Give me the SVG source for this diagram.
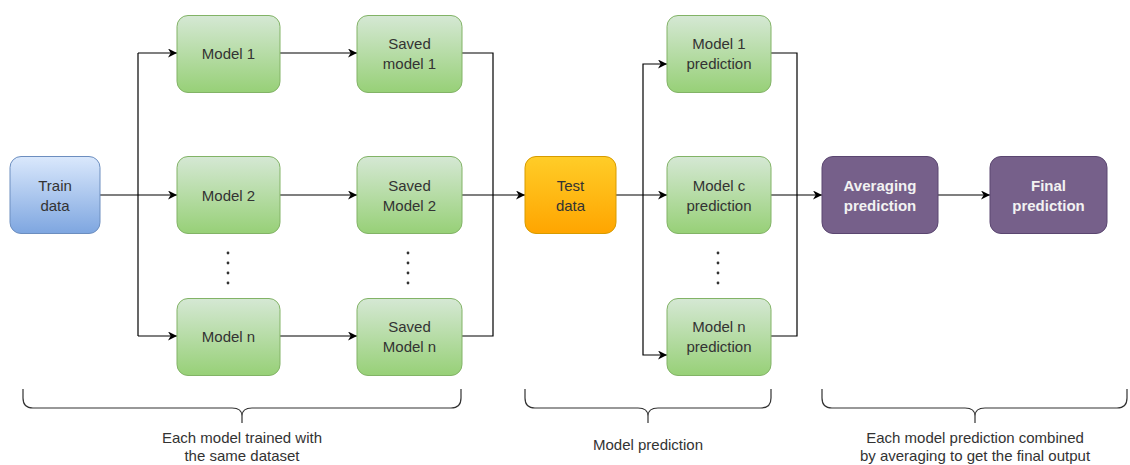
<svg xmlns="http://www.w3.org/2000/svg" width="1130" height="465" viewBox="0 0 1130 465">
<defs>
<linearGradient id="gGreen" x1="0" y1="0" x2="0" y2="1"><stop offset="0" stop-color="#d5e8d4"/><stop offset="1" stop-color="#97d077"/></linearGradient>
<linearGradient id="gBlue" x1="0" y1="0" x2="0" y2="1"><stop offset="0" stop-color="#dae8fc"/><stop offset="1" stop-color="#7ea6e0"/></linearGradient>
<linearGradient id="gOrange" x1="0" y1="0" x2="0" y2="1"><stop offset="0" stop-color="#ffcd28"/><stop offset="1" stop-color="#ffa500"/></linearGradient>
<marker id="arr" viewBox="0 0 10 10" refX="10" refY="5" markerWidth="9" markerHeight="9" markerUnits="userSpaceOnUse" orient="auto">
<path d="M0,0 L10,5 L0,10 L3,5 Z" fill="#000"/>
</marker>
<style>
.green{fill:url(#gGreen);stroke:#82b366;stroke-width:1}
.blue{fill:url(#gBlue);stroke:#6c8ebf;stroke-width:1}
.orange{fill:url(#gOrange);stroke:#d79b00;stroke-width:1}
.purple{fill:#76608a;stroke:#5a4670;stroke-width:1}
.t{font-family:"Liberation Sans",Arial,sans-serif;font-size:15px;fill:#333;text-anchor:middle}
.tw{font-family:"Liberation Sans",Arial,sans-serif;font-size:15px;fill:#f2f2f2;font-weight:bold;text-anchor:middle}
.lbl{font-family:"Liberation Sans",Arial,sans-serif;font-size:15px;fill:#333;text-anchor:middle}
.ln{fill:none;stroke:#000;stroke-width:1.2}
.ar{fill:none;stroke:#000;stroke-width:1.2;marker-end:url(#arr)}
.brace{fill:none;stroke:#333;stroke-width:1.2}
.dot{fill:#333}
</style>
</defs>
<rect width="1130" height="465" fill="#fff"/>

<g id="connectors">
<path class="ar" d="M100,195 H177"/>
<path class="ln" d="M138,53 V336"/>
<path class="ar" d="M138,53 H177"/>
<path class="ar" d="M138,336 H177"/>
<path class="ar" d="M280,53 H357"/>
<path class="ar" d="M280,195 H357"/>
<path class="ar" d="M280,336 H357"/>
<path class="ln" d="M462,53 H493 V336 H462"/>
<path class="ar" d="M462,195 H525"/>
<path class="ar" d="M616,195 H667"/>
<path class="ar" d="M643,195 V64 H667"/>
<path class="ar" d="M643,195 V355 H667"/>
<path class="ln" d="M771,53 H797 V336 H771"/>
<path class="ar" d="M771,195 H822"/>
<path class="ar" d="M938,195 H990"/>
</g>

<g id="train">
<rect class="blue" x="10" y="156.5" width="90" height="77" rx="11"/>
<text class="t" x="55" y="190.5">Train</text>
<text class="t" x="55" y="210.5">data</text>
</g>
<g id="model1">
<rect class="green" x="177" y="15.5" width="103" height="77" rx="11"/>
<text class="t" x="228.5" y="59">Model 1</text>
</g>
<g id="model2">
<rect class="green" x="177" y="156.5" width="103" height="77" rx="11"/>
<text class="t" x="228.5" y="200.5">Model 2</text>
</g>
<g id="modeln">
<rect class="green" x="177" y="298.5" width="103" height="77" rx="11"/>
<text class="t" x="228.5" y="342">Model n</text>
</g>
<g id="saved1">
<rect class="green" x="357" y="15.5" width="105" height="77" rx="11"/>
<text class="t" x="409.5" y="49">Saved</text>
<text class="t" x="409.5" y="69">model 1</text>
</g>
<g id="saved2">
<rect class="green" x="357" y="156.5" width="105" height="77" rx="11"/>
<text class="t" x="409.5" y="190.5">Saved</text>
<text class="t" x="409.5" y="210.5">Model 2</text>
</g>
<g id="savedn">
<rect class="green" x="357" y="298.5" width="105" height="77" rx="11"/>
<text class="t" x="409.5" y="332">Saved</text>
<text class="t" x="409.5" y="352">Model n</text>
</g>
<g id="test">
<rect class="orange" x="525" y="156.5" width="91" height="77" rx="11"/>
<text class="t" x="570.5" y="190.5">Test</text>
<text class="t" x="570.5" y="210.5">data</text>
</g>
<g id="pred1">
<rect class="green" x="667" y="15.5" width="104" height="77" rx="11"/>
<text class="t" x="719" y="49">Model 1</text>
<text class="t" x="719" y="69">prediction</text>
</g>
<g id="predc">
<rect class="green" x="667" y="156.5" width="104" height="77" rx="11"/>
<text class="t" x="719" y="190.5">Model c</text>
<text class="t" x="719" y="210.5">prediction</text>
</g>
<g id="predn">
<rect class="green" x="667" y="298.5" width="104" height="77" rx="11"/>
<text class="t" x="719" y="332">Model n</text>
<text class="t" x="719" y="352">prediction</text>
</g>
<g id="averaging">
<rect class="purple" x="822" y="156.5" width="116" height="77" rx="11"/>
<text class="tw" x="880" y="190.5">Averaging</text>
<text class="tw" x="880" y="210.5">prediction</text>
</g>
<g id="final">
<rect class="purple" x="990" y="156.5" width="117" height="77" rx="11"/>
<text class="tw" x="1048.5" y="190.5">Final</text>
<text class="tw" x="1048.5" y="210.5">prediction</text>
</g>

<g id="dots">
<circle class="dot" cx="228" cy="253" r="1.4"/><circle class="dot" cx="228" cy="263" r="1.4"/><circle class="dot" cx="228" cy="273" r="1.4"/><circle class="dot" cx="228" cy="283" r="1.4"/>
<circle class="dot" cx="408" cy="253" r="1.4"/><circle class="dot" cx="408" cy="263" r="1.4"/><circle class="dot" cx="408" cy="273" r="1.4"/><circle class="dot" cx="408" cy="283" r="1.4"/>
<circle class="dot" cx="718" cy="253" r="1.4"/><circle class="dot" cx="718" cy="263" r="1.4"/><circle class="dot" cx="718" cy="273" r="1.4"/><circle class="dot" cx="718" cy="283" r="1.4"/>
</g>

<g id="brace1">
<path class="brace" d="M23,389 V398 Q23,408 33,408 H232 Q242,408 242,416 V423 M242,416 Q242,408 252,408 H451 Q461,408 461,398 V389"/>
<text class="lbl" x="242" y="443">Each model trained with</text>
<text class="lbl" x="242" y="461">the same dataset</text>
</g>
<g id="brace2">
<path class="brace" d="M525,389 V398 Q525,408 535,408 H638 Q648,408 648,416 V423 M648,416 Q648,408 658,408 H761 Q771,408 771,398 V389"/>
<text class="lbl" x="648" y="450">Model prediction</text>
</g>
<g id="brace3">
<path class="brace" d="M822,389 V398 Q822,408 832,408 H965 Q975,408 975,416 V423 M975,416 Q975,408 985,408 H1117 Q1127,408 1127,398 V389"/>
<text class="lbl" x="975" y="443">Each model prediction combined</text>
<text class="lbl" x="975" y="461">by averaging to get the final output</text>
</g>
</svg>
